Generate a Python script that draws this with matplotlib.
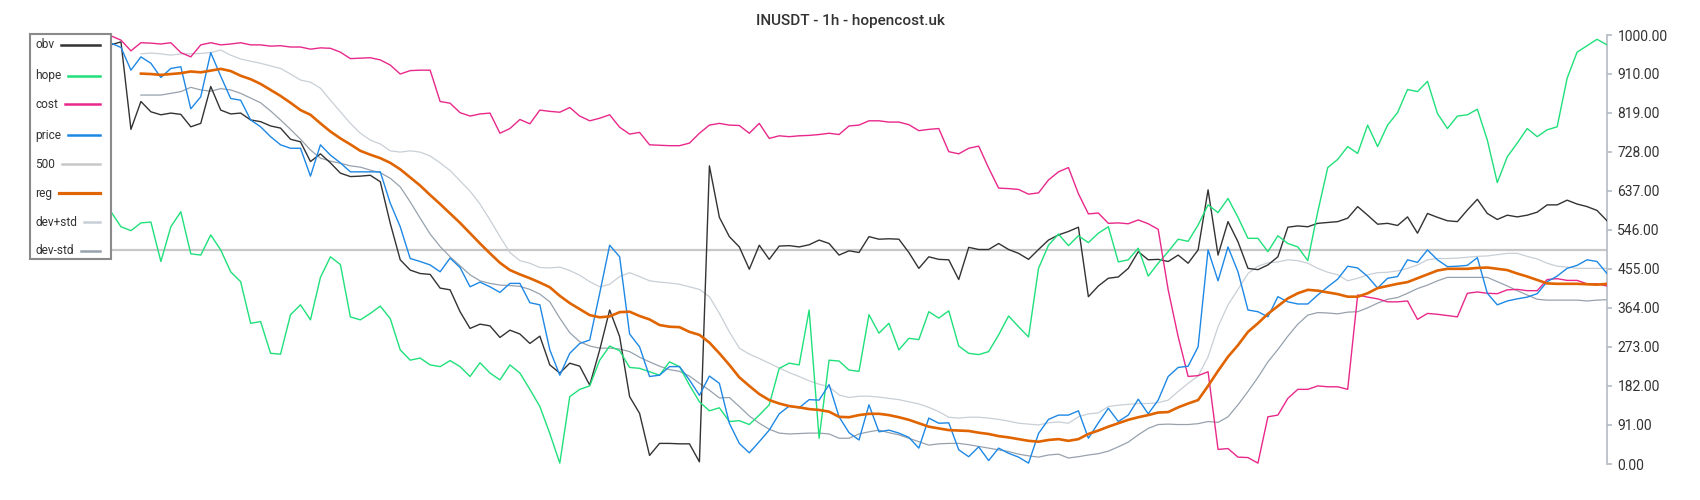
import numpy as np
import matplotlib
matplotlib.use("Agg")
import matplotlib.pyplot as plt
from matplotlib.lines import Line2D
from matplotlib.patches import Rectangle

plt.rcParams['font.family'] = ['Roboto', 'DejaVu Sans']

title = "INUSDT - 1h - hopencost.uk"
y_ticks = [0, 91, 182, 273, 364, 455, 546, 637, 728, 819, 910, 1000]
level_500 = 500
nan = np.nan

# values, one every ~10 px (151 points)
obv = [977, 984, 780, 845, 821, 814, 818, 815, 786, 794,
       880, 825, 816, 818, 802, 798, 788, 783, 757, 751,
       705, 723, 702, 678, 670, 671, 673, 658, 561, 476,
       452, 444, 442, 410, 406, 355, 316, 326, 322, 295,
       312, 303, 281, 298, 231, 212, 235, 228, 184, 266,
       359, 297, 157, 118, 20, 48, 48, 47, 47, 5,
       695, 575, 530, 506, 454, 510, 477, 508, 509, 506,
       511, 522, 514, 487, 497, 493, 530, 524, 525, 524,
       493, 456, 483, 477, 476, 430, 505, 500, 500, 514,
       500, 491, 477, 500, 522, 534, 542, 552, 390, 415,
       433, 436, 456, 495, 476, 477, 472, 487, 468, 499,
       639, 487, 565, 518, 456, 453, 464, 483, 552, 555,
       553, 561, 563, 565, 573, 600, 580, 559, 561, 556,
       576, 538, 584, 575, 567, 565, 592, 617, 584, 570,
       580, 576, 580, 587, 604, 604, 615, 606, 600, 591,
       567]

hope = [588, 553, 544, 562, 564, 472, 553, 588, 490, 487,
        534, 499, 448, 425, 328, 332, 258, 256, 348, 371,
        336, 435, 483, 465, 343, 336, 351, 368, 339, 266,
        242, 247, 231, 227, 241, 227, 204, 236, 212, 196,
        231, 212, 174, 134, 71, 2, 157, 174, 182, 242,
        275, 264, 225, 223, 215, 207, 238, 227, 184, 145,
        124, 131, 99, 101, 92, 114, 138, 223, 235, 231,
        359, 60, 242, 240, 219, 216, 348, 305, 328, 266,
        293, 290, 355, 340, 357, 275, 258, 255, 262, 301,
        345, 320, 296, 456, 510, 536, 509, 532, 516, 538,
        553, 471, 476, 503, 438, 468, 495, 524, 519, 557,
        604, 586, 619, 575, 526, 526, 495, 532, 514, 506,
        474, 588, 691, 710, 740, 724, 790, 740, 790, 819,
        873, 868, 892, 817, 782, 811, 814, 827, 755, 656,
        716, 748, 782, 763, 779, 786, 899, 960, 975, 990,
        977]

cost = [998, 988, 963, 982, 981, 979, 982, 959, 949, 977,
        982, 977, 979, 982, 977, 977, 974, 975, 972, 972,
        967, 970, 969, 960, 945, 946, 947, 942, 930, 909,
        917, 918, 918, 845, 841, 819, 811, 816, 818, 771,
        782, 803, 793, 825, 822, 820, 831, 811, 800, 806,
        814, 785, 769, 773, 744, 743, 742, 742, 748, 771,
        790, 794, 790, 789, 771, 794, 759, 765, 763, 765,
        766, 768, 771, 768, 788, 790, 800, 800, 797, 797,
        791, 777, 780, 782, 728, 723, 736, 741, 690, 643,
        642, 640, 629, 632, 662, 681, 691, 630, 583, 585,
        561, 562, 560, 569, 560, 547, 406, 297, 204, 206,
        215, 34, 36, 16, 15, 2, 110, 114, 153, 174,
        174, 182, 180, 180, 174, 394, 389, 385, 378, 378,
        380, 337, 351, 349, 346, 343, 398, 401, 398, 397,
        406, 407, 404, 404, 430, 432, 428, 428, 420, 420,
        415]

price = [981, 971, 918, 949, 934, 901, 922, 926, 828, 856,
         959, 904, 852, 848, 802, 786, 763, 744, 736, 736,
         671, 744, 720, 702, 681, 681, 681, 681, 608, 553,
         479, 472, 464, 448, 480, 458, 413, 424, 413, 400,
         421, 421, 376, 371, 266, 207, 258, 281, 289, 398,
         510, 483, 303, 273, 204, 207, 227, 227, 196, 160,
         205, 188, 95, 48, 26, 52, 79, 117, 135, 131,
         150, 149, 185, 110, 73, 56, 138, 75, 79, 72,
         62, 37, 107, 95, 96, 33, 17, 40, 8, 37,
         25, 16, 2, 71, 104, 114, 114, 124, 60, 96,
         130, 99, 114, 151, 117, 149, 204, 225, 228, 273,
         499, 427, 506, 448, 359, 355, 343, 390, 378, 373,
         373, 394, 413, 431, 461, 457, 437, 410, 433, 437,
         476, 470, 499, 476, 460, 461, 463, 481, 398, 371,
         380, 385, 389, 397, 425, 438, 456, 463, 476, 472,
         444]

reg = [nan, nan, nan, 910, 909, 907, 909, 911, 915, 913,
       917, 921, 916, 905, 897, 886, 872, 858, 842, 825,
       814, 794, 775, 759, 745, 730, 721, 713, 702, 687,
       668, 649, 627, 606, 584, 562, 538, 514, 491, 469,
       452, 442, 433, 423, 412, 392, 375, 361, 347, 342,
       344, 354, 355, 345, 337, 324, 320, 319, 308, 301,
       283, 258, 231, 202, 182, 163, 149, 141, 135, 132,
       128, 126, 122, 110, 109, 114, 117, 117, 114, 109,
       103, 95, 87, 83, 79, 78, 77, 73, 70, 65,
       62, 58, 54, 52, 56, 58, 54, 58, 70, 78,
       87, 95, 103, 109, 114, 120, 121, 132, 141, 149,
       182, 217, 250, 277, 308, 328, 350, 368, 386, 398,
       406, 404, 400, 396, 390, 390, 398, 410, 415, 420,
       424, 433, 442, 451, 455, 455, 455, 457, 458, 455,
       452, 444, 437, 429, 421, 420, 420, 420, 419, 418,
       420]

dev_plus = [nan, nan, nan, 956, 958, 956, 953, 956, 956, 957,
            959, 965, 953, 944, 939, 934, 928, 922, 909, 895,
            890, 876, 848, 821, 794, 771, 755, 746, 730, 727,
            730, 727, 718, 702, 684, 660, 636, 606, 569, 530,
            493, 474, 468, 458, 457, 459, 451, 440, 425, 413,
            419, 437, 446, 437, 427, 424, 422, 419, 413, 407,
            390, 351, 308, 270, 256, 246, 235, 224, 213, 204,
            194, 186, 180, 161, 155, 158, 158, 156, 153, 150,
            145, 140, 132, 122, 109, 107, 109, 109, 107, 104,
            100, 95, 93, 91, 96, 98, 95, 110, 117, 119,
            134, 137, 139, 141, 141, 143, 149, 169, 188, 205,
            250, 320, 371, 407, 444, 461, 469, 471, 476, 474,
            468, 456, 447, 441, 427, 433, 441, 446, 447, 450,
            456, 464, 476, 479, 479, 480, 482, 484, 485, 488,
            491, 491, 484, 478, 468, 461, 459, 456, 456, 456,
            456]

dev_minus = [nan, nan, nan, 860, 860, 860, 864, 868, 878, 872,
             869, 875, 872, 864, 853, 842, 823, 802, 780, 757,
             732, 713, 706, 701, 695, 692, 685, 679, 666, 646,
             611, 573, 536, 507, 483, 462, 441, 427, 421, 417,
             416, 414, 407, 396, 378, 340, 306, 285, 275, 270,
             270, 268, 262, 249, 238, 228, 220, 216, 205, 188,
             172, 154, 155, 134, 112, 95, 81, 72, 70, 71,
             72, 72, 70, 60, 60, 70, 75, 79, 73, 68,
             60, 52, 44, 47, 48, 48, 45, 41, 37, 33,
             29, 23, 19, 16, 21, 23, 14, 17, 21, 24,
             30, 40, 51, 68, 83, 92, 93, 92, 92, 94,
             99, 97, 110, 138, 169, 202, 238, 267, 298, 326,
             347, 353, 352, 350, 354, 355, 364, 375, 384, 388,
             398, 409, 417, 427, 435, 435, 435, 435, 435, 425,
             415, 404, 394, 384, 382, 382, 382, 382, 380, 382,
             383]

x = np.arange(len(obv))

c_obv = "#333333"
c_hope = "#1fe07a"
c_cost = "#e8288a"
c_price = "#1e88e5"
c_500 = "#c8c8c8"
c_reg = "#e06400"
c_devp = "#c8cfd6"
c_devm = "#97a2ad"

fig = plt.figure(figsize=(17, 5), dpi=100)
ax = fig.add_axes([111 / 1700, 36 / 500, 1496 / 1700, 429 / 500])

ax.axhline(level_500, color=c_500, lw=1.6, zorder=1)
ax.plot(x, dev_plus, color=c_devp, lw=0.9, zorder=2)
ax.plot(x, dev_minus, color=c_devm, lw=0.9, zorder=2)
ax.plot(x, obv, color=c_obv, lw=1.0, zorder=3)
ax.plot(x, hope, color=c_hope, lw=1.0, zorder=3)
ax.plot(x, cost, color=c_cost, lw=1.0, zorder=3)
ax.plot(x, price, color=c_price, lw=1.0, zorder=3)
ax.plot(x, reg, color=c_reg, lw=1.9, zorder=4)

ax.set_xlim(0, len(x) - 1)
ax.set_ylim(0, 1000)
for side in ["left", "top", "bottom"]:
    ax.spines[side].set_visible(False)
ax.spines["right"].set_color("#b3bbc3")
ax.spines["right"].set_linewidth(1.2)
ax.set_xticks([])
ax.yaxis.tick_right()
ax.set_yticks(y_ticks)
ax.set_yticklabels(["%.2f" % v for v in y_ticks])
ax.tick_params(axis="y", colors="#b3bbc3", labelcolor="#333333",
               length=3.5, width=1.2, pad=4, labelsize=10)

fig.text(850 / 1700, 1 - 21 / 500, title, ha="center", va="center",
         fontsize=11, color="#333333", fontweight="medium")

# legend box on the left
fig.patches.append(Rectangle((30 / 1700, 1 - 259 / 500), 81 / 1700, 225 / 500,
                             transform=fig.transFigure, fill=False,
                             edgecolor="#8a8a8a", lw=1.5))
entries = [("obv", c_obv, 1.8), ("hope", c_hope, 1.8), ("cost", c_cost, 1.8),
           ("price", c_price, 1.8), ("500", c_500, 1.8), ("reg", c_reg, 2.3),
           ("dev+std", c_devp, 1.8), ("dev-std", c_devm, 1.8)]
legend_y = [45, 76, 104, 135, 164, 193, 222, 251]
renderer = fig.canvas.get_renderer()
for (name, col, lw), ly in zip(entries, legend_y):
    t = fig.text(35 / 1700, 1 - ly / 500, name, ha="left", va="center",
                 fontsize=8.6, color="#333333")
    ext = t.get_window_extent(renderer)
    x0 = (ext.x1 + 7) / 1700
    fig.lines.append(Line2D([x0, 100 / 1700], [1 - ly / 500, 1 - ly / 500],
                            transform=fig.transFigure, color=col, lw=lw))

fig.savefig("out.png", dpi=100)
